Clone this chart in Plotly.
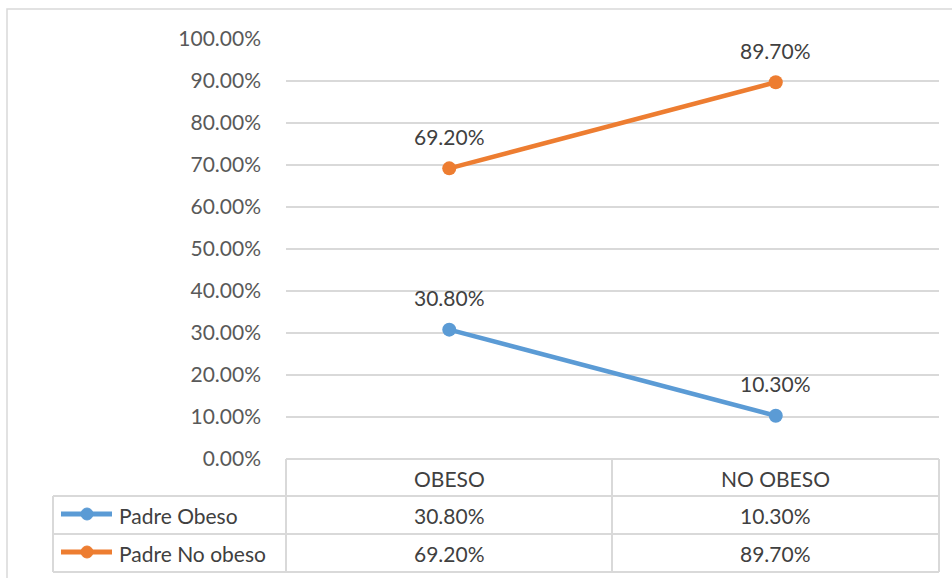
import plotly.graph_objects as go

# Data
categories = ["OBESO", "NO OBESO"]
series_names = ["Padre Obeso", "Padre No obeso"]
padre_obeso = [0.308, 0.103]
padre_no_obeso = [0.692, 0.897]
series_values = [padre_obeso, padre_no_obeso]
series_colors = ["#5B9BD5", "#ED7D31"]

FONT = "Lato"
FS = 21
W, H = 952, 578
M_L, M_R, M_T, M_B = 286, 13, 39, 119
PW, PH = W - M_L - M_R, H - M_T - M_B
GRID = "#D9D9D9"


def px_x(x):
    return (x - M_L) / PW


def px_y(y):
    return (H - M_B - y) / PH


fig = go.Figure()

for name, vals, color in zip(series_names, series_values, series_colors):
    fig.add_trace(go.Scatter(
        x=categories, y=vals, name=name, mode="lines+markers",
        line=dict(color=color, width=4.5),
        marker=dict(color=color, size=14),
        showlegend=False, cliponaxis=False,
    ))
    # value labels above each point
    for c, v in zip(categories, vals):
        fig.add_annotation(
            x=c, y=v, xref="x", yref="y", text=f"{v * 100:.2f}%",
            showarrow=False, yshift=32, yanchor="middle",
            font=dict(family=FONT, size=FS, color="#404040"),
        )

shapes = []
# outer chart border
shapes.append(dict(type="rect", xref="paper", yref="paper",
                   x0=px_x(7), x1=px_x(960), y0=px_y(9), y1=px_y(590),
                   line=dict(color=GRID, width=1.5)))

# data table grid
row_lines = [459, 496, 534, 572]
col_left, col_mid, col_right, col_head = 53, 612, 939, 286
line_style = dict(color=GRID, width=2)
shapes.append(dict(type="line", xref="paper", yref="paper",
                   x0=px_x(col_head), x1=px_x(col_right),
                   y0=px_y(row_lines[0]), y1=px_y(row_lines[0]), line=line_style))
for ry in row_lines[1:]:
    shapes.append(dict(type="line", xref="paper", yref="paper",
                       x0=px_x(col_left), x1=px_x(col_right),
                       y0=px_y(ry), y1=px_y(ry), line=line_style))
for cx in (col_head, col_mid, col_right):
    shapes.append(dict(type="line", xref="paper", yref="paper",
                       x0=px_x(cx), x1=px_x(cx),
                       y0=px_y(row_lines[0]), y1=px_y(row_lines[-1]), line=line_style))
shapes.append(dict(type="line", xref="paper", yref="paper",
                   x0=px_x(col_left), x1=px_x(col_left),
                   y0=px_y(row_lines[1]), y1=px_y(row_lines[-1]), line=line_style))

table_font = dict(family=FONT, size=FS, color="#404040")
header_y = px_y((row_lines[0] + row_lines[1]) / 2 + 1)
for c in categories:
    fig.add_annotation(x=c, y=header_y, xref="x", yref="paper", text=c,
                       showarrow=False, yanchor="middle", font=table_font)

for i, (name, vals, color) in enumerate(zip(series_names, series_values, series_colors)):
    cy = (row_lines[i + 1] + row_lines[i + 2]) / 2 - 1
    # legend key: line with a marker
    shapes.append(dict(type="line", xref="paper", yref="paper",
                       x0=px_x(61), x1=px_x(112), y0=px_y(cy), y1=px_y(cy),
                       line=dict(color=color, width=5)))
    shapes.append(dict(type="circle", xref="paper", yref="paper",
                       x0=px_x(81), x1=px_x(93), y0=px_y(cy - 6), y1=px_y(cy + 6),
                       fillcolor=color, line=dict(color=color, width=1)))
    fig.add_annotation(x=px_x(117), y=px_y(cy + 1), xref="paper", yref="paper",
                       text=name, showarrow=False, xanchor="left", yanchor="middle",
                       font=table_font)
    for c, v in zip(categories, vals):
        fig.add_annotation(x=c, y=px_y(cy + 1), xref="x", yref="paper",
                           text=f"{v * 100:.2f}%", showarrow=False,
                           yanchor="middle", font=table_font)

fig.update_layout(
    width=W, height=H,
    margin=dict(l=M_L, r=M_R, t=M_T, b=M_B, pad=0),
    paper_bgcolor="white", plot_bgcolor="white",
    shapes=shapes,
    xaxis=dict(type="category", range=[-0.5, 1.5], showticklabels=False,
               showgrid=False, zeroline=False, showline=False, ticks=""),
    yaxis=dict(range=[0, 1], dtick=0.1, tickformat=".2%",
               showgrid=True, gridcolor=GRID, gridwidth=1.5,
               zeroline=False, showline=False, ticks="",
               ticklabelstandoff=24,
               tickfont=dict(family=FONT, size=FS, color="#595959")),
)

fig.write_html("out.html")
